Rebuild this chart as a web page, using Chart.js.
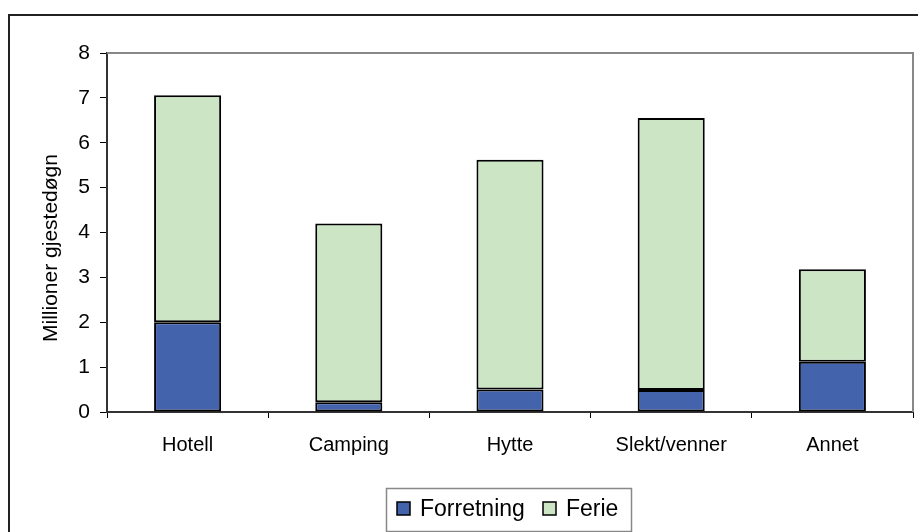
<!DOCTYPE html>
<html>
<head>
<meta charset="utf-8">
<script src="https://cdn.jsdelivr.net/npm/chart.js@4"></script>
<style>
  body { margin: 0; background: #fff; }
  canvas { display: block; }
</style>
</head>
<body>
<canvas id="grafikk" width="918" height="532"></canvas>
<script>
const kategorier = ["Hotell", "Camping", "Hytte", "Slekt/venner", "Annet"]
const forretning = [2.0, 0.22, 0.5, 0.49, 1.12]
const ferie = [5.06, 3.98, 5.12, 6.06, 2.06]
const yTicks = [0, 1, 2, 3, 4, 5, 6, 7, 8]
const yTittel = "Millioner gjestedøgn"
const serieNavn = ["Forretning", "Ferie"]

const skrift = "'Liberation Sans', Arial, sans-serif"
const blaa = "#4364AD"
const groenn = "#CCE5C4"

// ramme rundt hele figuren og rundt plottet, aksetittel og legenden med boks
const rammePlugin = {
  id: "ramme",
  afterDraw(chart) {
    const ctx = chart.ctx
    const a = chart.chartArea
    ctx.save()
    // ytre ramme (venstre og topp synlig)
    ctx.strokeStyle = "#222"
    ctx.lineWidth = 2
    ctx.beginPath()
    ctx.moveTo(9, 540)
    ctx.lineTo(9, 15)
    ctx.lineTo(930, 15)
    ctx.stroke()
    // plotramme topp og hoyre
    ctx.strokeStyle = "#888"
    ctx.lineWidth = 2
    ctx.beginPath()
    ctx.moveTo(a.left, a.top)
    ctx.lineTo(a.right, a.top)
    ctx.lineTo(a.right, a.bottom)
    ctx.stroke()
    // y-aksetittel
    ctx.save()
    ctx.translate(57, 248)
    ctx.rotate(-Math.PI / 2)
    ctx.font = "21px " + skrift
    ctx.fillStyle = "#000"
    ctx.textAlign = "center"
    ctx.textBaseline = "alphabetic"
    ctx.fillText(yTittel, 0, 0)
    ctx.restore()
    // legende
    ctx.strokeStyle = "#888"
    ctx.lineWidth = 1.5
    ctx.strokeRect(386.5, 488.5, 245, 43)
    const farger = [blaa, groenn]
    const boksX = [397, 543]
    const tekstX = [420, 566]
    ctx.font = "23px " + skrift
    ctx.textBaseline = "alphabetic"
    for (let i = 0; i < serieNavn.length; i++) {
      ctx.fillStyle = farger[i]
      ctx.fillRect(boksX[i], 502, 13, 13)
      ctx.strokeStyle = "#000"
      ctx.lineWidth = 1.5
      ctx.strokeRect(boksX[i], 502, 13, 13)
      ctx.fillStyle = "#000"
      ctx.fillText(serieNavn[i], tekstX[i], 516)
    }
    ctx.restore()
  }
}

function lagConfig() {
  const config = {
    type: "bar",
    data: {
      labels: kategorier,
      datasets: [
        {
          label: serieNavn[0],
          data: forretning,
          backgroundColor: blaa,
          borderColor: "#000",
          borderWidth: 2,
          borderSkipped: false,
          categoryPercentage: 1,
          barPercentage: 0.416
        },
        {
          label: serieNavn[1],
          data: ferie,
          backgroundColor: groenn,
          borderColor: "#000",
          borderWidth: 2,
          borderSkipped: false,
          categoryPercentage: 1,
          barPercentage: 0.416
        }
      ]
    },
    options: {
      responsive: false,
      animation: false,
      layout: { padding: { top: 53, right: 5, left: 0, bottom: 0 } },
      plugins: {
        legend: { display: false },
        tooltip: { enabled: false }
      },
      scales: {
        x: {
          stacked: true,
          afterFit: (s) => { s.height = 120 },
          grid: {
            offset: true,
            drawOnChartArea: false,
            tickLength: 6,
            color: "#000"
          },
          border: { color: "#333", width: 2 },
          ticks: {
            color: "#000",
            padding: 15,
            font: { family: skrift, size: 20 }
          }
        },
        y: {
          stacked: true,
          min: 0,
          max: 8,
          afterFit: (s) => { s.width = 107 },
          afterBuildTicks: (s) => { s.ticks = yTicks.map((v) => ({ value: v })) },
          grid: {
            drawOnChartArea: false,
            tickLength: 7,
            color: "#000"
          },
          border: { color: "#333", width: 2 },
          ticks: {
            color: "#000",
            padding: 10,
            font: { family: skrift, size: 21 }
          }
        }
      }
    },
    plugins: [rammePlugin]
  }
  return config
}

function tegnGrafikk() {
  const grafikkDOM = document.getElementById("grafikk")
  new Chart(grafikkDOM, lagConfig())
}

tegnGrafikk()
</script>
</body>
</html>
